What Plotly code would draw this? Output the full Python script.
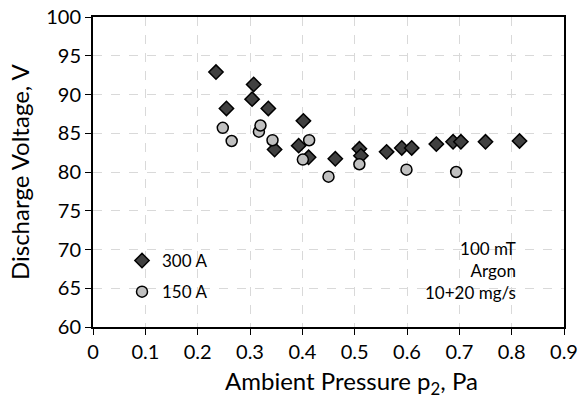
import plotly.graph_objects as go

# 300 A series (diamonds)
p300 = [0.235, 0.255, 0.304, 0.307, 0.335, 0.347, 0.393, 0.402, 0.412, 0.463,
        0.509, 0.512, 0.561, 0.590, 0.609, 0.656, 0.688, 0.703, 0.750, 0.815]
v300 = [92.9, 88.2, 89.4, 91.3, 88.2, 82.9, 83.4, 86.6, 81.9, 81.7,
        83.0, 82.1, 82.6, 83.1, 83.1, 83.6, 83.9, 83.9, 83.9, 84.0]

# 150 A series (circles)
p150 = [0.248, 0.265, 0.317, 0.320, 0.343, 0.401, 0.413, 0.450, 0.509, 0.599, 0.694]
v150 = [85.7, 84.0, 85.2, 86.0, 84.1, 81.6, 84.1, 79.4, 81.0, 80.3, 80.0]

x_ticks = [0, 0.1, 0.2, 0.3, 0.4, 0.5, 0.6, 0.7, 0.8, 0.9]
x_tick_text = ["0", "0.1", "0.2", "0.3", "0.4", "0.5", "0.6", "0.7", "0.8", "0.9"]
y_ticks = [60, 65, 70, 75, 80, 85, 90, 95, 100]

note_lines = ["100 mT", "Argon", "10+20 mg/s"]
x_title = "Ambient Pressure p<sub>2</sub>, Pa"
y_title = "Discharge Voltage, V"

FONT = "Lato"

fig = go.Figure()
fig.add_trace(go.Scatter(
    x=p300, y=v300, mode="markers", name="300 A", legendgroup="a",
    marker=dict(symbol="diamond", size=11, color="#404040",
                line=dict(color="#000000", width=1.5)),
))
fig.add_trace(go.Scatter(
    x=p150, y=v150, mode="markers", name="150 A", legendgroup="b",
    marker=dict(symbol="circle", size=11, color="#c0c0c0",
                line=dict(color="#000000", width=1.5)),
))

fig.add_annotation(
    x=0.812, y=67.35, xref="x", yref="y",
    text="<br>".join(note_lines), showarrow=False,
    xanchor="right", yanchor="middle", align="right",
    font=dict(family=FONT, size=17, color="#000000"),
)

# axis titles
fig.add_annotation(
    x=0.548, y=0, xref="paper", yref="paper", yshift=-55,
    text=x_title, showarrow=False, xanchor="center", yanchor="middle",
    font=dict(family=FONT, size=24, color="#000000"),
)
fig.add_annotation(
    x=0, y=0.5, xref="paper", yref="paper", xshift=-74,
    text=y_title, showarrow=False, textangle=-90,
    xanchor="center", yanchor="middle",
    font=dict(family=FONT, size=24, color="#000000"),
)

axis_common = dict(
    showline=True, linecolor="#000000", linewidth=2, mirror=True,
    showgrid=True, gridcolor="#d9d9d9", griddash="dash", gridwidth=1,
    ticks="outside", ticklen=6, tickcolor="#000000", tickwidth=1,
    zeroline=False, automargin=False, ticklabeloverflow="allow",
    tickfont=dict(family=FONT, size=20, color="#000000"),
)

fig.update_layout(
    width=579, height=409,
    margin=dict(l=93, r=15, t=17, b=82),
    paper_bgcolor="white", plot_bgcolor="white",
    showlegend=True,
    legend=dict(
        x=0.0616, y=0.271, xanchor="left", yanchor="top",
        bgcolor="rgba(0,0,0,0)", traceorder="grouped", tracegroupgap=6,
        font=dict(family=FONT, size=17, color="#000000"),
    ),
    xaxis=dict(range=[0, 0.9], tickvals=x_ticks, ticktext=x_tick_text, **axis_common),
    yaxis=dict(range=[60, 100], tickvals=y_ticks, **axis_common),
)

# remove the default 8 px page margin so the figure fills the window exactly
fig.write_html("out.html", config={"displayModeBar": False},
               post_script="document.body.style.margin='0';")
